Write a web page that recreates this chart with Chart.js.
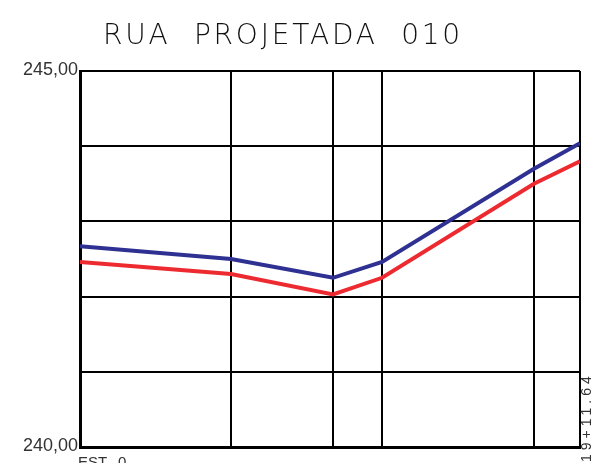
<!DOCTYPE html>
<html><head><meta charset="utf-8">
<script src="https://cdn.jsdelivr.net/npm/chart.js@4/dist/chart.umd.min.js"></script>
<style>html,body{margin:0;padding:0;background:#fff}#wrap{width:592px;height:463px}</style>
</head><body><div id="wrap"><canvas id="c"></canvas></div>
<script>
const stations = [0, 118.3, 198.2, 236.6, 355.6, 391.64];
const blueProfile = [242.67, 242.50, 242.25, 242.46, 243.70, 244.04];
const redProfile = [242.46, 242.30, 242.03, 242.25, 243.50, 243.80];
const yTickLabels = {240: "240,00", 245: "245,00"};
const titleText = "RUA PROJETADA 010";
const startLabel = "EST 0";
const endLabel = "19+11.64";

const pts = (xs, ys) => xs.map((x, i) => ({x: x, y: ys[i]}));

const extras = {
  id: 'extras',
  afterDraw(chart) {
    const ctx = chart.ctx, xs = chart.scales.x, ca = chart.chartArea;
    ctx.save();
    ctx.fillStyle = '#111';
    ctx.font = '200 28px "DejaVu Sans"';
    ctx.letterSpacing = '2.8px';
    ctx.textBaseline = 'alphabetic';
    ctx.textAlign = 'left';
    ctx.fillText(titleText.replace(/ /g, '  '), 103, 44);
    ctx.fillStyle = '#333';
    ctx.font = '15px "Liberation Sans"';
    ctx.letterSpacing = '0px';
    ctx.textBaseline = 'top';
    const x0 = xs.getPixelForValue(stations[0]);
    const parts = startLabel.split(' ');
    ctx.fillText(parts[0], x0 - 2, ca.bottom + 8);
    ctx.fillText(parts[1], x0 + 38, ca.bottom + 8);
    ctx.translate(xs.getPixelForValue(stations[stations.length - 1]) + 7, 462);
    ctx.rotate(-Math.PI / 2);
    ctx.textBaseline = 'middle';
    ctx.font = '14px "Liberation Sans"';
    ctx.letterSpacing = '4px';
    ctx.fillText(endLabel, 0, 0);
    ctx.restore();
  }
};

new Chart(document.getElementById('c'), {
  type: 'line',
  data: {
    datasets: [
      {data: pts(stations, blueProfile), borderColor: '#2e3192', borderWidth: 4, pointRadius: 0, tension: 0, fill: false},
      {data: pts(stations, redProfile), borderColor: '#ed2a30', borderWidth: 4, pointRadius: 0, tension: 0, fill: false}
    ]
  },
  options: {
    responsive: true, maintainAspectRatio: false, animation: false,
    layout: {padding: {top: 71, right: 12, left: 0, bottom: 0}},
    plugins: {legend: {display: false}, tooltip: {enabled: false}},
    scales: {
      x: {
        type: 'linear', min: stations[0], max: stations[stations.length - 1],
        afterBuildTicks: s => { s.ticks = stations.map(v => ({value: v})); },
        afterFit: s => { s.height = 16; },
        ticks: {display: false},
        grid: {color: '#000', lineWidth: 2, drawTicks: false},
        border: {color: '#000', width: 3}
      },
      y: {
        min: 240, max: 245,
        afterBuildTicks: s => { s.ticks = [240, 241, 242, 243, 244, 245].map(v => ({value: v})); },
        afterFit: s => { s.width = 80; },
        ticks: {
          callback: v => yTickLabels[v] || '',
          color: '#333', font: {family: 'Liberation Sans', size: 18},
          padding: 2, labelOffset: -1
        },
        grid: {color: '#000', lineWidth: 2, drawTicks: false},
        border: {color: '#000', width: 3}
      }
    }
  },
  plugins: [extras]
});
</script></body></html>
